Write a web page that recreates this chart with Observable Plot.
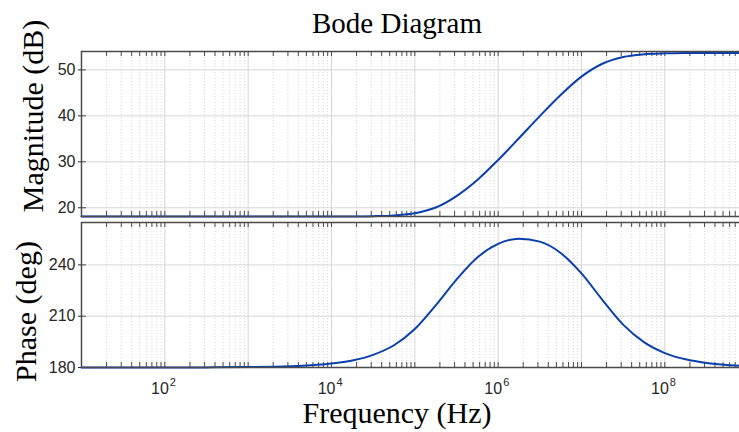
<!DOCTYPE html>
<html><head><meta charset="utf-8">
<script src="https://cdn.jsdelivr.net/npm/d3@7"></script>
<script src="https://cdn.jsdelivr.net/npm/@observablehq/plot@0.6"></script>
<style>
html,body{margin:0;padding:0;background:#fff;}
#wrap{position:relative;width:739px;height:432px;overflow:hidden;background:#fff;}
#wrap svg{position:absolute;left:0;}
</style></head><body><div id="wrap"></div>
<script>
// Frequency (Hz)
const freq = [10, 100, 316.2, 1000, 3162, 5623, 10000, 17783, 31623, 56234, 100000, 177828, 316228, 562341,
  1000000, 1778279, 3162278, 5623413, 10000000, 17782794, 31622777, 56234133, 100000000, 177827941,
  316227766, 562341325, 794328235];
// Magnitude (dB)
const magnitude = [18.10, 18.10, 18.10, 18.10, 18.10, 18.10, 18.11, 18.12, 18.17, 18.33, 18.80, 20.05, 22.55,
  26.05, 30.40, 35.13, 39.94, 44.54, 48.53, 51.33, 52.81, 53.40, 53.60, 53.67, 53.69, 53.70, 53.70];
// Phase (deg)
const phase = [180.00, 180.02, 180.07, 180.23, 180.72, 181.28, 182.30, 184.10, 187.40, 193.00, 202.50, 216.30,
  231.40, 244.30, 252.30, 255.30, 253.60, 247.00, 235.00, 219.60, 205.10, 194.80, 188.45, 184.78, 182.69, 181.51, 181.07];

const decades = [10, 100, 1e3, 1e4, 1e5, 1e6, 1e7, 1e8];
const minorMult = [2, 3, 4, 5, 6, 7, 8, 9];
const xLabelTicks = [1e2, 1e4, 1e6, 1e8];
const xLabelExp = ["2", "4", "6", "8"];
const magTicks = [20, 30, 40, 50];
const phaseTicks = [180, 210, 240];
const xDomain = [10, 8.1e8];
const magDomain = [18.1, 54];
const phaseDomain = [180, 264.8];

const data = freq.map((f, i) => ({f, mag: magnitude[i], ph: phase[i]}));
const minor = decades.flatMap(d => minorMult.map(m => m * d)).filter(v => v < xDomain[1]);
const allX = decades.concat(minor);

const W = 739;
const lineColor = "#0b3fae";
const frameColor = "#4a4a4a";
const gridMajor = "#d2d2d2";
const gridMinor = "#cfcfcf";
const style = {fontFamily: "'Liberation Sans', Arial, sans-serif", fontSize: "16px", color: "#262626", background: "transparent", overflow: "visible"};

function panel(opts) {
  const {height, marginTop, marginBottom, yDomain, yTicks, yKey, extra} = opts;
  const ph = height - marginTop - marginBottom;
  const pw = W - 81 + 1;
  return Plot.plot({
    width: W, height, marginTop, marginBottom, marginLeft: 81, marginRight: -1,
    style,
    x: {type: "log", domain: xDomain, axis: null},
    y: {domain: yDomain, ticks: yTicks, tickSize: 3, tickPadding: 3, label: null, tickFormat: d => String(d)},
    marks: [
      Plot.ruleX(minor, {stroke: gridMinor, strokeWidth: 0.8, strokeDasharray: "1.2,1.8"}),
      Plot.ruleX(decades, {stroke: gridMajor, strokeWidth: 0.9}),
      Plot.ruleY(yTicks, {stroke: gridMajor, strokeWidth: 0.9}),
      Plot.tickX(allX, {insetBottom: ph - 5, stroke: frameColor, strokeWidth: 1}),
      Plot.tickX(allX, {insetTop: ph - 5, stroke: frameColor, strokeWidth: 1}),
      Plot.tickY(yTicks, {insetRight: pw - 5, stroke: frameColor, strokeWidth: 1}),
      Plot.line(data, {x: "f", y: yKey, curve: "monotone-x", stroke: lineColor, strokeWidth: 2}),
      Plot.frame({stroke: frameColor, strokeWidth: 1.5}),
      ...(extra || [])
    ]
  });
}

const wrap = document.getElementById("wrap");

const topPlot = panel({height: 217, marginTop: 51, marginBottom: 1, yDomain: magDomain, yTicks: magTicks, yKey: "mag"});
topPlot.style.top = "0px";
wrap.appendChild(topPlot);

const bottomPlot = panel({
  height: 215, marginTop: 5, marginBottom: 65, yDomain: phaseDomain, yTicks: phaseTicks, yKey: "ph",
  extra: [
    Plot.text(xLabelTicks, {x: d => d, frameAnchor: "bottom", text: () => "10", textAnchor: "end", lineAnchor: "bottom", dx: 4, dy: 26.5, fontSize: 16, fill: "#262626"}),
    Plot.text(xLabelTicks, {x: d => d, frameAnchor: "bottom", text: (d, i) => xLabelExp[i], textAnchor: "start", lineAnchor: "bottom", dx: 5, dy: 18, fontSize: 11, fill: "#262626"})
  ]
});
bottomPlot.style.top = "217px";
wrap.appendChild(bottomPlot);

// Titles and axis labels
const serif = "'Liberation Serif', 'Times New Roman', serif";
const ov = d3.select(wrap).append("svg")
  .attr("width", W).attr("height", 432)
  .style("top", "0px").style("pointer-events", "none");
ov.append("text").attr("x", 397).attr("y", 33).attr("text-anchor", "middle")
  .attr("font-family", serif).attr("font-size", 29).attr("fill", "#000").text("Bode Diagram");
ov.append("text").attr("x", 397).attr("y", 423).attr("text-anchor", "middle")
  .attr("font-family", serif).attr("font-size", 30).attr("fill", "#000").text("Frequency (Hz)");
ov.append("text").attr("transform", "translate(43,116) rotate(-90)").attr("text-anchor", "middle")
  .attr("font-family", serif).attr("font-size", 30).attr("fill", "#000").text("Magnitude (dB)");
ov.append("text").attr("transform", "translate(36,311.5) rotate(-90)").attr("text-anchor", "middle")
  .attr("font-family", serif).attr("font-size", 30).attr("fill", "#000").text("Phase (deg)");
</script>
</body></html>
